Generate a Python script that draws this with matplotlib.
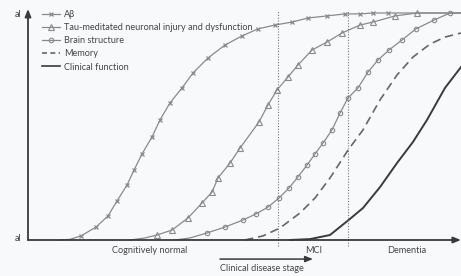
import matplotlib
matplotlib.use("Agg")
import matplotlib.pyplot as plt
from matplotlib.lines import Line2D

# ---- data (x: disease progression units, y: % abnormal) ----
ab_x = [32, 42, 53, 68, 80, 89, 99, 106, 114, 124, 132, 142, 154, 165, 180, 197, 214, 230,
        247, 264, 280, 299, 317, 332, 345, 360, 433]
ab_y = [0, 0.3, 1.8, 5.7, 10.6, 17.2, 24.2, 30.8, 37.9, 45.4, 52.9, 60.4, 67.0, 73.6, 80.2,
        85.9, 89.9, 93.0, 94.7, 96.0, 97.8, 98.7, 99.6, 99.6, 100, 100, 100]

tau_x = [102, 117, 129, 144, 160, 174, 184, 190, 202, 212, 231, 240, 249, 260, 270, 284,
         299, 314, 332, 345, 367, 389, 433]
tau_y = [0, 0.9, 2.2, 4.4, 9.7, 16.3, 21.1, 27.3, 33.9, 40.5, 52.0, 59.5, 66.1, 71.8, 77.1,
         83.7, 87.2, 91.2, 94.7, 96.0, 98.7, 100, 100]

brain_x = [147, 162, 179, 197, 215, 228, 240, 251, 261, 270, 279, 287, 295, 304, 312, 320,
           330, 340, 350, 361, 374, 388, 406, 422, 433]
brain_y = [0, 0.9, 3.1, 5.7, 8.8, 11.5, 14.5, 18.5, 22.9, 27.8, 33.0, 37.9, 42.7, 48.5,
           55.9, 62.6, 67.0, 74.0, 79.3, 83.7, 88.1, 93.0, 96.9, 100, 100]

mem_x = [217, 235, 252, 272, 287, 302, 320, 335, 352, 369, 385, 402, 417, 433]
mem_y = [0, 1.8, 5.3, 11.9, 18.5, 27.3, 39.6, 48.5, 61.7, 72.7, 80.6, 86.3, 89.4, 91.2]

clin_x = [262, 282, 302, 322, 335, 352, 369, 385, 399, 417, 433]
clin_y = [0, 0.4, 2.2, 9.3, 14.1, 23.3, 33.9, 43.2, 52.9, 67.0, 76.2]

stage_bounds = [250, 320]
stage_labels = ["Cognitively normal", "MCI", "Dementia"]
stage_label_x = [122, 286, 379]
y_end_labels = ["al", "al"]   # visible (cropped) endings of the y-axis labels
legend_labels = ["A\u03b2", "Tau-meditated neuronal injury and dysfunction",
                 "Brain structure", "Memory", "Clinical function"]

# ---- figure ----
W, H = 461, 276
fig = plt.figure(figsize=(W / 100, H / 100), dpi=100)
bg = "#f8f9fa"
fig.patch.set_facecolor(bg)
ax = fig.add_axes([0, 0, 1, 1])
ax.set_facecolor(bg)
ax.set_xlim(-28, 433)
ax.set_ylim((240 - 276) / 2.27, 240 / 2.27)
ax.axis("off")
plt.rcParams["font.family"] = ["Lato", "DejaVu Sans"]

grey = "#8a8a8a"
dark = "#3a3a3a"
txtc = "#444444"
fs = 6.6

ax.plot(ab_x, ab_y, color=grey, lw=0.9, marker="x", ms=3.2, mew=0.9,
        markevery=list(range(2, 26)))
ax.plot(tau_x, tau_y, color=grey, lw=0.9, marker="^", ms=4, mfc="none", mew=0.8,
        markevery=list(range(2, 22)))
ax.plot(brain_x, brain_y, color=grey, lw=0.9, marker="o", ms=3.2, mfc="none", mew=0.8,
        markevery=list(range(2, 24)))
ax.plot(mem_x, mem_y, color="#666666", lw=1.2, ls=(0, (5, 3)))
ax.plot(clin_x, clin_y, color=dark, lw=1.4)

# stage boundaries
for b in stage_bounds:
    ax.plot([b, b], [-2.6, 101.5], color="#777777", lw=0.8, ls=(0, (1, 1.5)))

# axes arrows
ax.annotate("", xy=(0, 101.8), xytext=(0, 0),
            arrowprops=dict(arrowstyle="-|>,head_length=0.45,head_width=0.18",
                            color=dark, lw=1.3, shrinkA=0, shrinkB=0))
ax.annotate("", xy=(433, 0), xytext=(0, 0),
            arrowprops=dict(arrowstyle="-|>,head_length=0.45,head_width=0.18",
                            color=dark, lw=1.3, shrinkA=0, shrinkB=0))

# stage labels
for lab, x in zip(stage_labels, stage_label_x):
    ax.text(x, -4.8, lab, fontsize=fs, color=txtc, ha="center", va="center")

# clinical disease stage arrow
ax.annotate("", xy=(285, -8.4), xytext=(192, -8.4),
            arrowprops=dict(arrowstyle="-|>,head_length=0.45,head_width=0.18",
                            color=dark, lw=1.1, shrinkA=0, shrinkB=0))
ax.text(192, -12.6, "Clinical disease stage", fontsize=fs, color=txtc,
        ha="left", va="center")

# y-axis end labels
ax.text(-7, 99.5, y_end_labels[0], fontsize=fs, color=txtc, ha="right", va="center")
ax.text(-7, 0.8, y_end_labels[1], fontsize=fs, color=txtc, ha="right", va="center")

# legend
handles = [
    Line2D([], [], color=grey, lw=0.9, marker="x", ms=3.2, mew=0.9),
    Line2D([], [], color=grey, lw=0.9, marker="^", ms=4, mfc="none", mew=0.8),
    Line2D([], [], color=grey, lw=0.9, marker="o", ms=3.2, mfc="none", mew=0.8),
    Line2D([], [], color="#666666", lw=1.2, ls=(0, (3, 2))),
    Line2D([], [], color=dark, lw=1.2),
]
leg = ax.legend(handles, legend_labels, loc="upper left",
                bbox_to_anchor=(42 / W, 1 - 10 / H), bbox_transform=fig.transFigure,
                frameon=False, fontsize=fs, handlelength=2.0, handletextpad=0.4,
                labelspacing=0.45, borderpad=0, borderaxespad=0, numpoints=1)
for t in leg.get_texts():
    t.set_color(txtc)

fig.savefig("out.png", dpi=100, facecolor=bg)
